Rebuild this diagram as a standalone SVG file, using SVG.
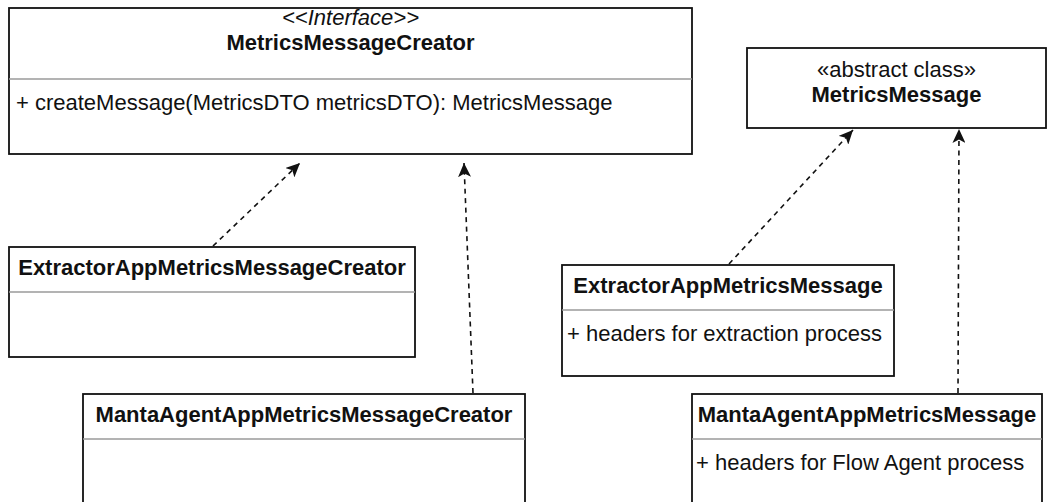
<svg xmlns="http://www.w3.org/2000/svg" width="1055" height="502" viewBox="0 0 1055 502">
  <style>
    .box { fill: #ffffff; stroke: #111111; stroke-width: 1.8; }
    .div { stroke: #9a9a9a; stroke-width: 1.4; fill: none; }
    .t { font-family: "Liberation Sans", Arial, sans-serif; font-size: 22px; fill: #111111; }
    .b { font-weight: bold; }
    .i { font-style: italic; }
    .c { text-anchor: middle; }
    .edge { fill: none; stroke: #111111; stroke-width: 1.6; stroke-dasharray: 5 4.5; }
  </style>
  <defs>
    <marker id="arrow" markerUnits="userSpaceOnUse" markerWidth="15" markerHeight="13" refX="14" refY="6.5" orient="auto">
      <path d="M0,0 L14,6.5 L0,13 L3.5,6.5 Z" fill="#111111"/>
    </marker>
  </defs>

  <g id="connectors">
    <line class="edge" x1="213" y1="246" x2="300" y2="163" marker-end="url(#arrow)"/>
    <line class="edge" x1="473" y1="393" x2="464" y2="163" marker-end="url(#arrow)"/>
    <line class="edge" x1="729" y1="264" x2="853" y2="130" marker-end="url(#arrow)"/>
    <line class="edge" x1="958" y1="393" x2="959" y2="129" marker-end="url(#arrow)"/>
  </g>

  <g id="metrics-message-creator">
    <rect class="box" x="9" y="8" width="683" height="146"/>
    <line class="div" x1="9" y1="79" x2="692" y2="79"/>
    <text class="t i c" x="350.5" y="25">&lt;&lt;Interface&gt;&gt;</text>
    <text class="t b c" x="350.5" y="50">MetricsMessageCreator</text>
    <text class="t" x="16" y="110">+ createMessage(MetricsDTO metricsDTO): MetricsMessage</text>
  </g>

  <g id="metrics-message">
    <rect class="box" x="747" y="48" width="299" height="80"/>
    <text class="t c" x="896.5" y="77">«abstract class»</text>
    <text class="t b c" x="896.5" y="102">MetricsMessage</text>
  </g>

  <g id="extractor-creator">
    <rect class="box" x="9" y="247" width="406" height="110"/>
    <line class="div" x1="9" y1="292" x2="415" y2="292"/>
    <text class="t b c" x="212" y="275">ExtractorAppMetricsMessageCreator</text>
  </g>

  <g id="manta-agent-creator">
    <rect class="box" x="83" y="394" width="442" height="130"/>
    <line class="div" x1="83" y1="439" x2="525" y2="439"/>
    <text class="t b c" x="304" y="422">MantaAgentAppMetricsMessageCreator</text>
  </g>

  <g id="extractor-message">
    <rect class="box" x="562" y="265" width="332" height="111"/>
    <line class="div" x1="562" y1="310" x2="894" y2="310"/>
    <text class="t b c" x="728" y="293">ExtractorAppMetricsMessage</text>
    <text class="t" x="567" y="341">+ headers for extraction process</text>
  </g>

  <g id="manta-agent-message">
    <rect class="box" x="692" y="394" width="350" height="130"/>
    <line class="div" x1="692" y1="439" x2="1042" y2="439"/>
    <text class="t b c" x="867" y="422">MantaAgentAppMetricsMessage</text>
    <text class="t" x="696" y="470">+ headers for Flow Agent process</text>
  </g>
</svg>
